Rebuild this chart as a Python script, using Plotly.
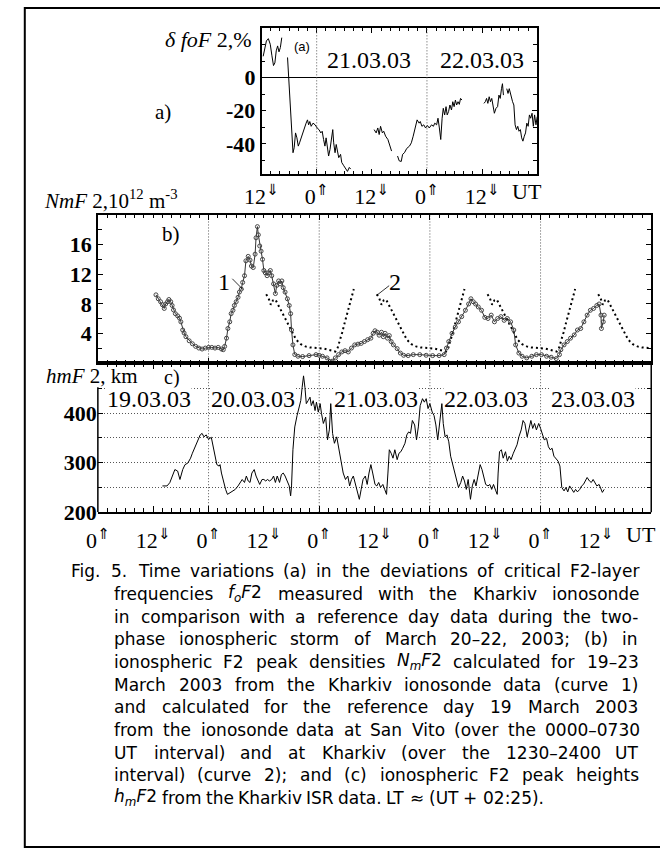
import glob
import os
import re
import struct

import plotly.graph_objects as go

W, H = 660, 868
SERIF = "Liberation Serif, Times New Roman, serif"
SANS = "DejaVu Sans, sans-serif"

# ---------------- data ----------------
# hours are counted from 19.03.03 00 UT

# (a) deviation of foF2 from the reference day, %
dfo_segments_h = [
    [36.36, 36.64, 37.06, 37.48, 37.9, 38.26, 38.6, 38.9, 39.2, 39.5, 39.8, 40.1, 40.4],
    [41.66, 41.94, 42.15, 42.36, 42.6, 42.85, 43.1, 43.4, 43.7, 44.0, 44.27, 44.6, 44.97,
     45.4, 45.7, 46.0, 46.25, 46.5, 46.8, 47.2, 47.66, 48.1, 48.5, 48.9, 49.2, 49.5, 49.8,
     50.05, 50.35, 50.6, 50.9, 51.2, 51.5, 51.7, 52.0, 52.25, 52.5, 52.8, 53.2, 53.45,
     53.9, 54.3, 54.7, 55.1, 55.4],
    [60.5, 60.95, 61.3, 61.6, 61.9, 62.3, 62.6, 63.0, 63.5, 63.9, 64.3],
    [65.6, 65.95, 66.4, 66.7, 67.1, 67.6, 68.2, 68.6, 69.0, 69.4, 69.86, 70.3, 70.55,
     70.9, 71.3, 71.7, 72.1, 72.5, 73.0, 73.4, 73.7, 74.1, 74.4, 74.7, 75.0, 75.3, 75.55,
     75.85, 76.15, 76.4, 76.7, 77.0, 77.34, 77.62, 77.91, 78.19, 78.46, 78.76, 79.04,
     79.31, 79.61],
    [84.40, 84.70, 84.97, 85.25, 85.54, 85.82, 86.10, 86.39, 86.67, 87.03, 87.37, 87.66,
     87.94, 88.22, 88.43, 88.64],
    [89.36, 89.64, 89.91, 90.21, 90.63, 90.91, 91.18, 91.48, 91.76, 92.03, 92.33, 92.61,
     92.88, 93.18, 93.45, 93.73, 94.02, 94.30, 94.57, 94.87, 95.15, 95.42, 95.72, 96.0],
]
dfo_segments_v = [
    [13.0, 17.3, 22.3, 23.7, 20.3, 13.3, 7.4, 9.0, 16.3, 19.3, 15.7, 18.3, 24.3],
    [12.3, -0.6, -12.5, -24.5, -38.4, -45.4, -42.4, -33.4, -36.4, -41.4, -39.4, -36.4,
     -33.4, -30.4, -27.5, -25.5, -28.5, -26.5, -29.4, -27.5, -28.5, -30.4, -31.4, -33.4,
     -32.4, -37.4, -41.4, -36.4, -43.4, -47.4, -43.4, -38.4, -31.4, -39.4, -45.4, -40.4,
     -44.4, -48.4, -46.4, -51.3, -53.3, -55.3, -56.7, -54.3, -55.3],
    [-31.4, -33.4, -30.4, -34.4, -29.4, -33.4, -32.4, -35.4, -37.4, -41.4, -44.4],
    [-47.4, -50.3, -50.7, -46.4, -45.4, -42.8, -41.4, -39.4, -35.4, -30.4, -25.5, -27.5,
     -26.5, -29.4, -28.5, -30.4, -28.9, -30.4, -28.5, -29.4, -27.5, -28.5, -24.5, -30.4,
     -37.4, -24.5, -18.5, -22.5, -17.5, -22.5, -20.5, -16.5, -19.5, -14.5, -17.5, -13.5,
     -16.5, -14.5, -16.1, -12.5, -13.5],
    [-15.5, -14.5, -12.5, -15.5, -11.5, -14.5, -12.5, -17.5, -21.5, -18.5, -17.5, -10.5,
     -12.5, -6.6, -3.6, -10.5],
    [-6.6, -9.5, -6.6, -10.5, -14.5, -16.5, -28.5, -31.4, -29.4, -32.4, -31.4, -36.4,
     -38.4, -35.4, -33.4, -27.5, -29.4, -22.5, -24.5, -21.5, -29.4, -22.5, -28.5, -23.5],
]

# (b) curve 1: NmF2 over Kharkiv, 10^12 m^-3
nm_hours = [
    12.6, 13.1, 13.6, 14.0, 14.4, 14.7, 15.1, 15.4, 15.8, 16.1,
    16.4, 16.8, 17.3, 17.7, 18.0, 18.4, 18.7, 19.1, 19.8, 20.5,
    21.2, 21.9, 22.6, 23.3, 24.0, 24.7, 25.4, 26.1, 26.8, 27.2,
    27.5, 27.9, 28.2, 28.6, 28.9, 29.3, 29.6, 30.0, 30.4, 30.7,
    31.1, 31.4, 31.8, 32.1, 32.6, 33.0, 33.3, 33.7, 34.1, 34.3,
    34.6, 34.8, 35.1, 35.4, 35.7, 36.0, 36.3, 36.7, 37.0, 37.4,
    37.7, 38.1, 38.5, 38.8, 39.2, 39.5, 39.9, 40.2, 40.6, 41.1,
    41.5, 41.8, 42.0, 42.3, 42.7, 43.4, 44.4, 45.8, 47.3, 48.0,
    48.7, 49.7, 50.8, 51.5, 52.2, 52.9, 53.6, 54.3, 55.0, 55.7,
    56.4, 57.1, 57.8, 58.5, 59.2, 59.7, 60.1, 60.6, 61.0, 61.5,
    61.9, 62.3, 62.8, 63.2, 63.6, 64.1, 64.9, 65.6, 66.3, 67.3,
    68.4, 69.8, 71.2, 72.6, 74.0, 75.1, 75.6, 76.1, 76.8, 77.5,
    78.2, 78.9, 79.7, 80.4, 80.9, 81.4, 81.9, 82.5, 83.2, 83.9,
    84.6, 85.3, 86.0, 86.7, 87.4, 88.1, 88.8, 89.5, 90.2, 90.6,
    91.3, 92.0, 93.0, 94.1, 95.1, 96.2, 97.3, 98.3, 99.4, 100.1,
    100.4, 101.1, 101.8, 102.5, 103.3, 104.0, 104.7, 105.4, 106.1, 106.8,
    107.5, 108.2, 108.7, 109.1, 109.2, 109.6, 109.8,
]
nm_values = [
    9.23, 8.7, 8.3, 7.9, 7.4, 8.0, 8.3, 8.6, 8.3, 7.8,
    7.2, 6.7, 6.4, 6.1, 5.6, 4.5, 4.1, 3.6, 3.05, 2.65,
    2.3, 2.07, 1.94, 2.07, 2.16, 2.16, 2.07, 2.16, 1.94, 1.85,
    2.3, 3.4, 4.7, 5.6, 6.7, 7.15, 7.8, 8.3, 8.9, 9.6,
    10.0, 10.9, 11.8, 13.8, 14.4, 13.9, 13.1, 12.9, 14.7, 16.9,
    18.4, 17.3, 15.8, 15.1, 14.0, 12.5, 12.2, 11.8, 12.2, 12.5,
    11.8, 10.7, 9.4, 10.5, 11.1, 10.7, 11.1, 10.2, 9.6, 8.7,
    7.8, 6.7, 4.5, 2.5, 1.2, 0.97, 0.93, 1.06, 1.19, 1.1,
    0.97, 0.75, 0.31, 0.75, 1.19, 1.55, 1.72, 1.55, 2.07, 2.5,
    2.6, 2.7, 2.95, 3.2, 3.4, 4.05, 4.4, 4.2, 3.8, 4.2,
    3.6, 4.05, 3.4, 3.75, 2.95, 2.5, 2.0, 1.4, 1.1, 1.06,
    1.19, 1.19, 1.1, 1.06, 1.06, 1.19, 2.07, 2.95, 4.05, 4.9,
    5.6, 6.3, 7.15, 8.0, 8.7, 8.3, 8.0, 7.6, 7.15, 6.2,
    6.05, 6.5, 5.6, 6.05, 6.3, 5.8, 6.05, 5.6, 4.5, 2.5,
    1.4, 0.97, 0.75, 0.97, 1.19, 1.19, 0.97, 0.84, 0.66, 1.19,
    1.85, 2.5, 2.95, 3.4, 3.84, 4.5, 4.7, 5.6, 6.5, 7.15,
    7.4, 7.8, 8.0, 6.5, 4.7, 5.6, 6.5,
]

# (b) curve 2: reference day 19.03.03 (San Vito 0000-0730 UT, Kharkiv 1230-2400 UT)
ref_morning_ut = [0, 1, 2, 3, 3.5, 4.0, 4.5, 5.0, 5.5, 6.0, 6.5, 7.0, 7.5]
ref_morning_nm = [2.05, 2.0, 1.85, 1.7, 1.6, 2.1, 3.0, 4.2, 5.4, 6.6, 7.8, 9.0, 10.0]
ref_evening_ut = [12.5, 13.0, 13.5, 14.0, 14.5, 15.0, 15.5, 16.0, 17.0, 18.0, 19.0, 20.0,
                  21.0, 22.0, 23.0, 24.0]
ref_evening_nm = [9.3, 8.8, 7.9, 8.5, 8.6, 8.0, 7.4, 6.8, 5.6, 4.3, 3.2, 2.6, 2.3, 2.15,
                  2.05, 2.05]
ref_morning_days = [48, 72, 96]      # 00 UT of 21, 22, 23 March
ref_evening_days = [24, 48, 72, 96]  # 00 UT of 20, 21, 22, 23 March

# (c) hmF2 from the Kharkiv ISR, km
hm_hours = [
    14.0, 15.0, 15.6, 16.1, 16.7, 17.3, 17.8, 18.4, 18.9, 19.5, 20.1, 20.5, 21.0, 21.3,
    21.8, 22.2, 22.6, 23.0, 23.5, 24.0, 24.6, 25.0, 25.4, 25.8, 26.3, 26.5, 26.8, 27.2,
    27.7, 28.1, 28.7, 29.2, 29.8, 30.4, 30.9, 31.3, 31.8, 32.2, 32.6, 33.0, 33.4, 33.9,
    34.3, 34.7, 35.1, 35.6, 36.0, 36.4, 36.8, 37.2, 37.7, 38.1, 38.5, 38.9, 39.4, 39.8,
    40.2, 40.6, 41.0, 41.5, 41.8, 42.0, 42.3, 42.7, 43.2, 43.6, 44.0, 44.3, 44.6, 44.9,
    45.2, 45.6, 46.0, 46.3, 46.7, 47.1, 47.4, 47.8, 48.2, 48.5, 48.9, 49.4, 49.8, 50.2,
    50.5, 50.9, 51.3, 51.8, 52.2,
    52.7, 53.2, 53.7, 54.2, 54.6, 55.0, 55.4, 55.8, 56.3, 56.7, 57.1, 57.5, 58.0, 58.4,
    58.8, 59.2, 59.6, 60.1, 60.5, 60.9, 61.3, 61.8, 62.2, 62.6, 62.9, 63.2, 63.6, 64.0,
    64.4, 64.9, 65.3, 65.7, 66.1, 66.6, 67.0, 67.4, 67.8, 68.2, 68.7, 69.1, 69.5, 69.9,
    70.4, 70.8, 71.2, 71.6, 72.0, 72.5, 72.9, 73.3, 73.7, 74.2, 74.6, 74.9, 75.3, 75.7,
    76.1, 76.5, 77.0, 77.4, 77.8, 78.2, 78.7, 79.1, 79.5, 79.9, 80.3, 80.8, 81.2, 81.6,
    82.0, 82.5, 82.9, 83.3, 83.7, 84.1, 84.6, 85.0, 85.4, 85.8, 86.3, 86.6, 86.8, 87.1,
    87.5, 87.9, 88.4, 88.8, 89.2, 89.6, 90.1, 90.5, 90.9, 91.3, 91.8, 92.2, 92.6, 93.1,
    93.5, 93.9, 94.3, 94.7, 95.1, 95.6, 96.0, 96.4, 96.8, 97.3, 97.7, 98.1, 98.5, 98.9,
    99.4, 99.8, 100.2, 100.6, 101.1, 101.5, 101.9, 102.3, 102.8, 103.2, 103.6, 104.0,
    104.5, 104.9, 105.3, 105.7, 106.1, 106.6, 107.0, 107.4, 107.8, 108.2, 108.7, 109.1,
    109.4, 109.8,
]
hm_km = [
    253, 253, 259.6, 272.9, 286, 283, 266, 286, 296, 299, 309, 319, 329, 336,
    346, 356, 359, 352, 356, 347, 351, 332, 313, 296, 293, 296, 279, 263,
    246, 236, 240, 243, 246, 253, 260, 266, 260, 273, 263, 260, 279, 286,
    273, 263, 256, 266, 266, 263, 266, 263, 266, 273, 260, 273, 260, 276,
    279, 273, 263, 253, 233, 253, 326, 372, 395, 409, 425, 452, 475, 452,
    419, 425, 432, 415, 425, 405, 422, 402, 419, 399, 379, 392, 346, 366,
    419, 359, 339, 352, 329,
    309, 279, 266, 273, 253, 266, 273, 260, 240, 226, 246, 266, 273, 256,
    279, 296, 279, 256, 253, 260, 250, 256, 246, 236, 279, 326, 319, 309,
    326, 306, 319, 322, 329, 339, 356, 362, 359, 385, 376, 346, 372, 415,
    429, 422, 429, 409, 419, 402, 395, 376, 346, 382, 419, 379, 352, 356,
    342, 313, 293, 279, 263, 250, 260, 273, 263, 246, 266, 226, 253, 266,
    253, 276, 296, 286, 273, 256, 253, 256, 246, 256, 243, 236, 279, 322,
    326, 309, 322, 303, 313, 306, 319, 329, 336, 352, 366, 385, 379, 352,
    372, 385, 369, 379, 366, 379, 369, 359, 346, 349, 332, 326, 329, 313,
    306, 303, 293, 250, 243, 250, 241, 253, 246, 240, 246, 241, 246, 253,
    256, 263, 270, 263, 260, 266, 260, 253, 256, 246,
    240, 246,
]

day_starts = [24, 48, 72, 96]
date_labels_c = ["19.03.03", "20.03.03", "21.03.03", "22.03.03", "23.03.03"]
date_labels_a = ["21.03.03", "22.03.03"]
ut_ticks_bc = [0, 12, 24, 36, 48, 60, 72, 84, 96, 108]
ut_ticks_a = [36, 48, 60, 72, 84]

caption_lines = [
    "Fig. 5. Time variations (a) in the deviations of critical F2-layer",
    "frequencies <i>f<sub>o</sub>F</i>2 measured with the Kharkiv ionosonde",
    "in comparison with a reference day data during the two-",
    "phase ionospheric storm of March 20\u201322, 2003; (b) in",
    "ionospheric F2 peak densities <i>N<sub>m</sub>F</i>2 calculated for 19\u201323",
    "March 2003 from the Kharkiv ionosonde data (curve 1)",
    "and calculated for the reference day 19 March 2003",
    "from the ionosonde data at San Vito (over the 0000\u20130730",
    "UT interval) and at Kharkiv (over the 1230\u20132400 UT",
    "interval) (curve 2); and (c) ionospheric F2 peak heights",
    "<i>h<sub>m</sub>F</i>2 from the Kharkiv ISR data. LT \u2248 (UT + 02:25).",
]


# ---------------- helpers ----------------
def fx(p):
    return p / W


def fy(p):
    return 1 - p / H


def join_segments(segs):
    out = []
    for i, s in enumerate(segs):
        if i:
            out.append(None)
        out.extend(s)
    return out


def ut_text(h):
    hh = int(h) % 24
    arrow = "\u21d1" if hh == 0 else "\u21d3"
    return f"{hh}<sup><span style=\"font-family:DejaVu Sans\">{arrow}</span></sup>"


class FontMetrics:
    """Advance widths read straight from a TrueType file (cmap format 4 + hmtx)."""

    def __init__(self, filename):
        self.ok = False
        path = None
        for d in ("/usr/share/fonts", "/usr/local/share/fonts",
                  os.path.expanduser("~/.fonts"), os.path.expanduser("~/.local/share/fonts")):
            hits = glob.glob(os.path.join(d, "**", filename), recursive=True)
            if hits:
                path = hits[0]
                break
        if not path:
            return
        try:
            with open(path, "rb") as f:
                data = f.read()
            ntab = struct.unpack(">H", data[4:6])[0]
            tabs = {}
            for i in range(ntab):
                tag, _, off, _ = struct.unpack(">4sIII", data[12 + 16 * i:28 + 16 * i])
                tabs[tag] = off
            head, hhea, hmtx, cmap = tabs[b"head"], tabs[b"hhea"], tabs[b"hmtx"], tabs[b"cmap"]
            self.upem = struct.unpack(">H", data[head + 18:head + 20])[0]
            nhm = struct.unpack(">H", data[hhea + 34:hhea + 36])[0]
            self.adv = [struct.unpack(">H", data[hmtx + 4 * i:hmtx + 4 * i + 2])[0]
                        for i in range(nhm)]
            nsub = struct.unpack(">H", data[cmap + 2:cmap + 4])[0]
            sub = None
            for i in range(nsub):
                pid, eid, off = struct.unpack(">HHI", data[cmap + 4 + 8 * i:cmap + 12 + 8 * i])
                fmt = struct.unpack(">H", data[cmap + off:cmap + off + 2])[0]
                if pid == 3 and eid == 1 and fmt == 4:
                    sub = cmap + off
                    break
            segx2 = struct.unpack(">H", data[sub + 6:sub + 8])[0]
            n = segx2 // 2
            p = sub + 14
            self.ends = struct.unpack(">%dH" % n, data[p:p + segx2])
            p += segx2 + 2
            self.starts = struct.unpack(">%dH" % n, data[p:p + segx2])
            p += segx2
            self.deltas = struct.unpack(">%dh" % n, data[p:p + segx2])
            p += segx2
            self.ro_base = p
            self.ranges = struct.unpack(">%dH" % n, data[p:p + segx2])
            self.data = data
            self.ok = True
        except Exception:
            self.ok = False

    def glyph(self, ch):
        c = ord(ch)
        for i, end in enumerate(self.ends):
            if c <= end:
                if c < self.starts[i]:
                    return 0
                if self.ranges[i] == 0:
                    return (c + self.deltas[i]) & 0xFFFF
                addr = self.ro_base + 2 * i + self.ranges[i] + 2 * (c - self.starts[i])
                g = struct.unpack(">H", self.data[addr:addr + 2])[0]
                return (g + self.deltas[i]) & 0xFFFF if g else 0
        return 0

    def width(self, ch, size):
        if not self.ok:
            return 0.58 * size
        g = self.glyph(ch)
        a = self.adv[g] if g < len(self.adv) else self.adv[-1]
        return a / self.upem * size


REGULAR = FontMetrics("DejaVuSans.ttf")
OBLIQUE = FontMetrics("DejaVuSans-Oblique.ttf")
if not OBLIQUE.ok:
    OBLIQUE = REGULAR


def markup_width(s, size):
    w, italic, small = 0.0, False, False
    for tok in re.split(r"(<[^>]+>)", s):
        if tok.startswith("<"):
            name = tok.strip("<>/").split()[0].lower()
            closing = tok.startswith("</")
            if name == "i":
                italic = not closing
            elif name in ("sub", "sup"):
                small = not closing
            continue
        fm = OBLIQUE if italic else REGULAR
        sz = size * (0.7 if small else 1.0)
        w += sum(fm.width(c, sz) for c in tok)
    return w


# reference-day curve repeated over the storm days, ordered in time
pieces = [([d + t for t in ref_evening_ut], ref_evening_nm) for d in ref_evening_days]
pieces += [([d + t for t in ref_morning_ut], ref_morning_nm) for d in ref_morning_days]
ref_h, ref_v = [], []
for hs, vs in sorted(pieces, key=lambda p: p[0][0]):
    if ref_h and hs[0] - ref_h[-1] > 1:
        ref_h.append(None)
        ref_v.append(None)
    ref_h.extend(hs)
    ref_v.extend(vs)

# ---------------- figure ----------------
fig = go.Figure()

fig.add_trace(go.Scatter(
    x=join_segments(dfo_segments_h), y=join_segments(dfo_segments_v),
    mode="lines", line=dict(color="black", width=1), xaxis="x", yaxis="y",
    connectgaps=False, showlegend=False))

fig.add_trace(go.Scatter(
    x=ref_h, y=ref_v, mode="lines",
    line=dict(color="black", width=2, dash="2px,3px"),
    xaxis="x2", yaxis="y2", connectgaps=False, showlegend=False))

fig.add_trace(go.Scatter(
    x=nm_hours, y=nm_values, mode="lines+markers",
    line=dict(color="#333333", width=1),
    marker=dict(symbol="circle-open", size=4, color="#444444", line=dict(width=1)),
    xaxis="x2", yaxis="y2", showlegend=False))

fig.add_trace(go.Scatter(
    x=hm_hours, y=hm_km, mode="lines", line=dict(color="black", width=1),
    xaxis="x3", yaxis="y3", showlegend=False))

PANEL_A = (251, 28, 534, 177)
PANEL_B = (83, 218, 651, 369)
PANEL_C = (83, 369, 651, 520)


def xdom(p):
    return [fx(p[0]), fx(p[2])]


def ydom(p):
    return [fy(p[3]), fy(p[1])]


tick_font = dict(family=SERIF, size=22, color="black")
ytick_font = dict(family=SERIF, size=22, color="black", weight="bold")

xbase = dict(
    showline=True, linecolor="black", linewidth=1.5, mirror="ticks",
    ticks="inside", ticklen=6, tickwidth=1, tickcolor="black",
    showgrid=False, zeroline=False, tickmode="array", tickfont=tick_font,
    minor=dict(ticks="inside", ticklen=4, tickwidth=1, tickcolor="black",
               tickmode="linear", dtick=2, tick0=0, showgrid=False),
)
ybase = dict(
    showline=True, linecolor="black", linewidth=1.5, mirror="ticks",
    ticks="inside", ticklen=5, tickwidth=1, tickcolor="black",
    showgrid=False, zeroline=False, tickmode="array", tickfont=ytick_font,
)

fig.update_layout(
    width=W, height=H, autosize=False,
    margin=dict(l=0, r=0, t=0, b=0),
    paper_bgcolor="white", plot_bgcolor="white",
    xaxis=dict(xbase, domain=xdom(PANEL_A), range=[36, 96], anchor="y",
               tickvals=ut_ticks_a, ticktext=[ut_text(h) for h in ut_ticks_a],
               ticklabelstandoff=2),
    yaxis=dict(ybase, domain=ydom(PANEL_A), range=[-58.5, 30.4], anchor="x",
               tickvals=[-40, -20, 0], ticktext=["-40", "-20", "0"],
               zeroline=True, zerolinecolor="black", zerolinewidth=1,
               minor=dict(ticks="inside", ticklen=4, tickcolor="black",
                          tickmode="linear", dtick=10, tick0=0)),
    xaxis2=dict(xbase, domain=xdom(PANEL_B), range=[0, 120], anchor="y2",
                tickvals=[0, 24, 48, 72, 96, 120], showticklabels=False),
    yaxis2=dict(ybase, domain=ydom(PANEL_B), range=[0, 20], anchor="x2",
                tickvals=[4, 8, 12, 16], ticktext=["4", "8", "12", "16"],
                minor=dict(ticks="inside", ticklen=4, tickcolor="black",
                           tickmode="linear", dtick=2, tick0=0)),
    xaxis3=dict(xbase, domain=xdom(PANEL_C), range=[0, 120], anchor="y3",
                tickvals=ut_ticks_bc, ticktext=[ut_text(h) for h in ut_ticks_bc],
                ticklabelstandoff=8),
    yaxis3=dict(ybase, domain=ydom(PANEL_C), range=[200, 500], anchor="x3",
                showline=False,
                tickvals=[200, 300, 400], ticktext=["200", "300", "400"],
                showgrid=True, gridcolor="#555555", gridwidth=1, griddash="1px,2px",
                minor=dict(ticks="inside", ticklen=4, tickcolor="black",
                           tickmode="linear", dtick=50, tick0=0, showgrid=True,
                           gridcolor="#555555", gridwidth=1, griddash="1px,2px")),
)

shapes = []
# 00 UT day boundaries
for d in [48, 72]:
    shapes.append(dict(type="line", xref="x", yref="y domain", x0=d, x1=d, y0=0, y1=1,
                       line=dict(color="#555555", width=1, dash="1px,2px")))
for d in day_starts:
    for xr, yr in (("x2", "y2 domain"), ("x3", "y3 domain")):
        shapes.append(dict(type="line", xref=xr, yref=yr, x0=d, x1=d, y0=0, y1=1,
                           line=dict(color="#555555", width=1, dash="1px,2px"),
                           layer="below"))
# spines of panel (c): the left one stops below the title
shapes.append(dict(type="line", xref="x3 domain", yref="y3", x0=0, x1=0, y0=200, y1=452,
                   line=dict(color="black", width=1.5)))
shapes.append(dict(type="line", xref="x3 domain", yref="y3 domain", x0=1, x1=1, y0=0, y1=1,
                   line=dict(color="black", width=1.5)))
# curve leaders
shapes.append(dict(type="line", xref="paper", yref="paper", x0=fx(221), y0=fy(283),
                   x1=fx(232), y1=fy(294), line=dict(color="black", width=0.8)))
shapes.append(dict(type="line", xref="paper", yref="paper", x0=fx(369), y0=fy(300),
                   x1=fx(382), y1=fy(290), line=dict(color="black", width=0.8)))
# frame around the figure (its right side runs past the page edge)
shapes.append(dict(type="rect", xref="paper", yref="paper", x0=fx(8), x1=fx(668),
                   y0=fy(860), y1=fy(8), line=dict(color="black", width=2)))


def label(text, x, y, size, family=SERIF, xanchor="center", yanchor="middle", **kw):
    return dict(text=text, x=fx(x), y=fy(y), xref="paper", yref="paper",
                showarrow=False, xanchor=xanchor, yanchor=yanchor,
                font=dict(family=family, size=size, color="black"), **kw)


annotations = [
    label("<i>\u03b4 foF</i> 2,%", 243, 40, 22, xanchor="right"),
    label("a)", 150, 114, 21),
    label("(a)", 293, 47, 13, family="Liberation Sans, Arial, sans-serif"),
    label("UT", 523, 194, 22),
    label("<i>NmF</i> 2,10<sup>12</sup> m<sup>-3</sup>", 26, 203, 21, xanchor="left"),
    label("b)", 158, 238, 21),
    label("1", 212, 286, 24),
    label("2", 388, 286, 24),
    label("<i>hmF</i> 2, km", 28, 382, 21, xanchor="left"),
    label("c)", 159, 383, 20),
    label("UT", 641, 543, 22),
]
for txt, cx in zip(date_labels_a, [361, 477]):
    annotations.append(label(txt, cx, 61, 24))
for txt, cx in zip(date_labels_c, [136, 242, 368, 481, 591]):
    annotations.append(label(txt, cx, 405, 24, bgcolor="white", borderpad=0, height=22))

# caption set word by word, flush left and right except for its last line
CAP_SIZE = 17
CAP_TOP, CAP_STEP = 580, 23
CAP_RIGHT = 637
space_w = REGULAR.width(" ", CAP_SIZE)
for i, line in enumerate(caption_lines):
    left = 55 if i == 0 else 100
    words = line.split(" ")
    widths = [markup_width(wd, CAP_SIZE) for wd in words]
    if i < len(caption_lines) - 1 and len(words) > 1:
        gap = (CAP_RIGHT - left - sum(widths)) / (len(words) - 1)
    else:
        gap = space_w
    x = left
    for wd, ww in zip(words, widths):
        annotations.append(label(wd, x, CAP_TOP + i * CAP_STEP, CAP_SIZE, family=SANS,
                                 xanchor="left", borderpad=0, borderwidth=0))
        x += ww + gap

fig.update_layout(shapes=shapes, annotations=annotations)

fig.write_html("out.html")
